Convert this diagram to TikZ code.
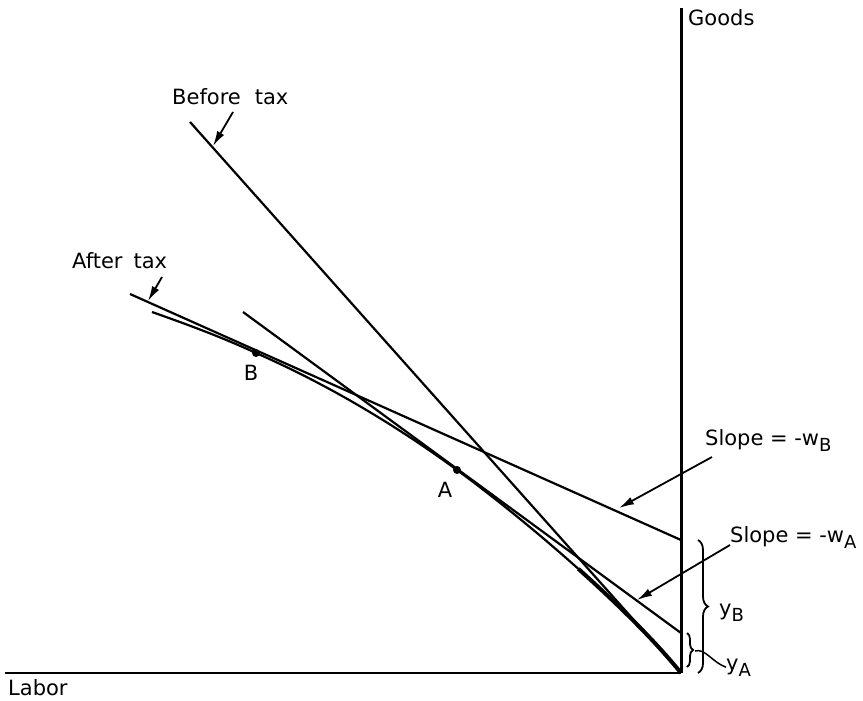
\documentclass[tikz,border=0pt]{standalone}
\usepackage{fontspec}
\setmainfont{DejaVu Sans}
\usetikzlibrary{arrows.meta,decorations.pathreplacing}
\begin{document}
\begin{tikzpicture}[x=1pt,y=-1pt,
  lbl/.style={font=\fontsize{21}{24}\selectfont, inner sep=0pt},
  ln/.style={line width=2.2pt},
  arr/.style={line width=1.8pt,-{Latex[length=15pt,width=8pt]}},
  dot/.style={circle,fill=black,inner sep=0pt,minimum size=8pt},
  brc/.style={line width=1.8pt,decorate,decoration={brace,amplitude=#1}},
  ]
\useasboundingbox (0,0) rectangle (863,701);
% axes
\coordinate (O) at (681,673);
\coordinate (Ytop) at (681,8);
\coordinate (Xleft) at (5,673);
\draw[line width=3pt] (O) -- (Ytop);
\draw[line width=1.6pt] (O) -- (Xleft);
\node[lbl,anchor=base west] (goods) at (688,26) {Goods};
\node[lbl,anchor=base west] (labor) at (8,695) {Labor};
% points
\coordinate (A) at (457,470);
\coordinate (B) at (256,353);
% before tax line
\coordinate (BT) at (190,122);
\draw[ln] (BT) -- (O);
% tangent at B
\coordinate (TB1) at (130,294);
\coordinate (TB2) at (681,540);
\draw[ln] (TB1) -- (TB2);
% tangent at A
\coordinate (TA1) at (243,312);
\coordinate (TA2) at (681,633);
\draw[ln] (TA1) -- (TA2);
% after-tax curve
\coordinate (C0) at (152,312);
\coordinate (M) at (578.4,568.9);
\draw[ln] (C0) .. controls (186,324) and (221,336.8) .. (B)
  .. controls (322,382) and (390,421) .. (A)
  .. controls (494.5,497.5) and (538,532.75) .. (M);
\draw[line width=4pt] (M) .. controls (618.75,605) and (656,642) .. (O);
\node[dot] (dA) at (A) {};
\node[dot] (dB) at (B) {};
\node[lbl] (labA) at (445,490) {A};
\node[lbl] (labB) at (251,373) {B};
% labels with arrows
\node[lbl,anchor=base west] (before) at (172,104) {{\spaceskip=14pt Before tax}};
\coordinate (bt0) at (233,112);
\coordinate (bt1) at (213,146);
\draw[arr] (bt0) -- (bt1);
\node[lbl,anchor=base west] (after) at (72,268) {{\spaceskip=11pt After tax}};
\coordinate (at0) at (162,277);
\coordinate (at1) at (148,301);
\draw[arr] (at0) -- (at1);
\node[lbl,anchor=base west] (slB) at (705,445) {Slope = -w\raisebox{-6pt}{\fontsize{18}{18}\selectfont B}};
\coordinate (sb0) at (712,457);
\coordinate (sb1) at (619,508);
\draw[arr] (sb0) -- (sb1);
\node[lbl,anchor=base west] (slA) at (730,542) {Slope = -w\raisebox{-6pt}{\fontsize{18}{18}\selectfont A}};
\coordinate (sa0) at (730,545);
\coordinate (sa1) at (637,600);
\draw[arr] (sa0) -- (sa1);
% braces
\coordinate (yb0) at (698,540);
\coordinate (yb1) at (698,673);
\draw[brc=10pt] (yb0) -- (yb1);
\node[lbl,anchor=base west] (yB) at (719,615) {y\raisebox{-6pt}{\fontsize{18}{18}\selectfont B}};
\coordinate (ya0) at (687,633);
\coordinate (ya1) at (687,667);
\draw[brc=6pt] (ya0) -- (ya1);
\node[lbl,anchor=base west] (yA) at (726,670) {y\raisebox{-6pt}{\fontsize{18}{18}\selectfont A}};
\coordinate (yat) at (695,651);
\draw[line width=1.5pt] (yat) .. controls (705,648) and (712,662) .. (yA.west);
\end{tikzpicture}
\end{document}
